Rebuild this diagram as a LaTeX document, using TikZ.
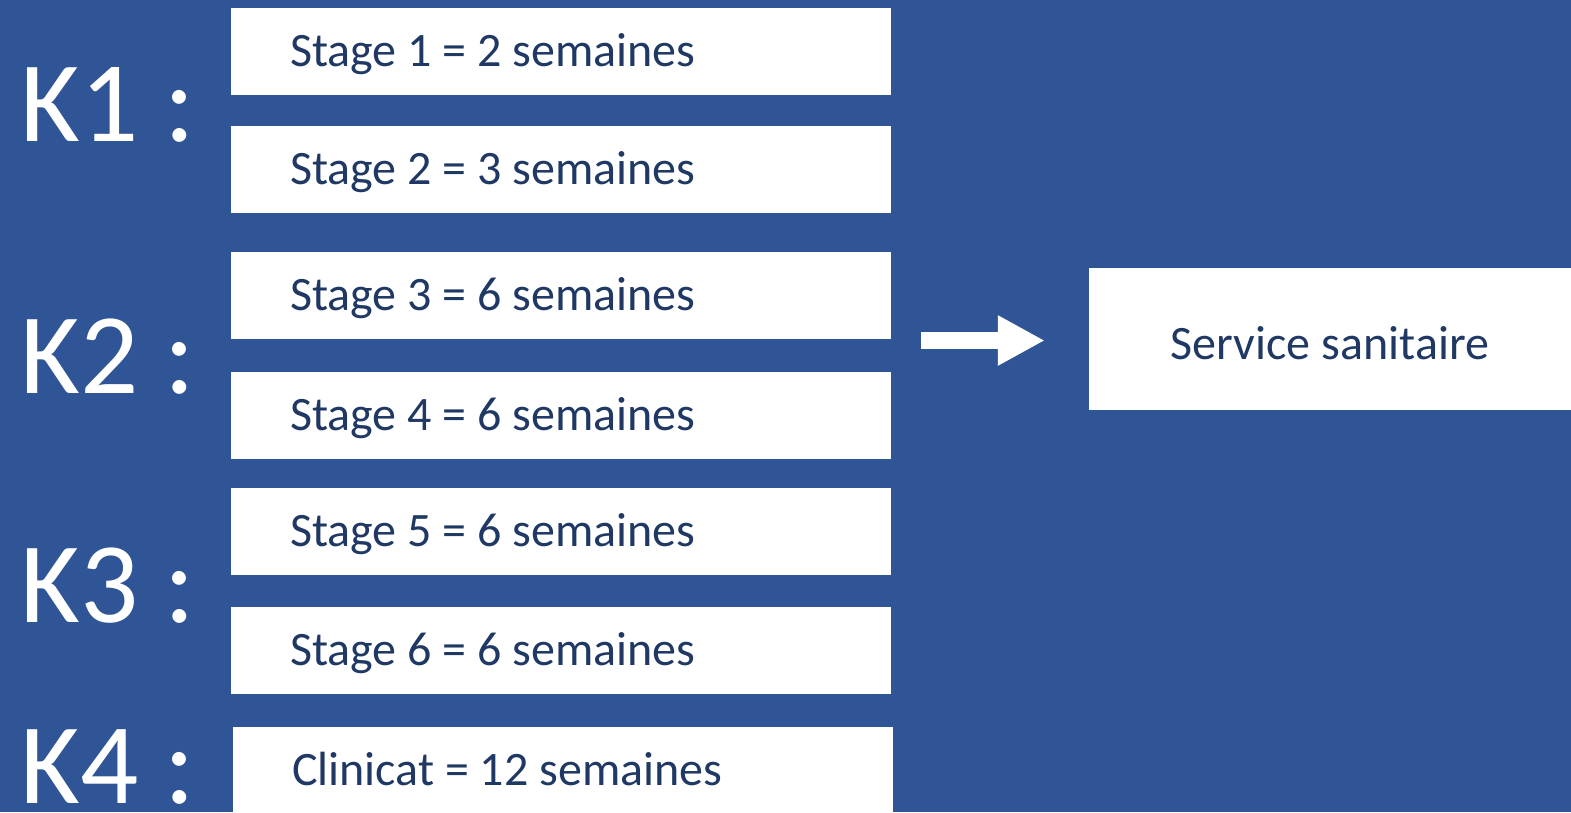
\documentclass[tikz,border=0pt]{standalone}
\usepackage{fontspec}
\setmainfont{Carlito}
\usepackage{xcolor}
\usepackage{tikz}
\usetikzlibrary{positioning,arrows.meta}

\definecolor{slideblue}{HTML}{2F5597}
\definecolor{boxtext}{HTML}{1F3864}

\begin{document}
\begin{tikzpicture}[
  x=1pt, y=-1pt,
  stagebox/.style={rectangle, fill=white, text=boxtext, minimum width=660pt, minimum height=87pt, text width=542pt, inner xsep=59pt, align=flush left, text height=30pt, text depth=0pt, font=\fontsize{48}{56}\selectfont},
  klabel/.style={text=white, inner sep=0pt, anchor=base west, text depth=0pt, font=\fontsize{115}{130}\selectfont},
  bigarrow/.style={-{Triangle[length=47pt, width=47pt]}, white, line width=17pt}
]
\fill[slideblue] (0,0) rectangle (1571,812);
\useasboundingbox (0,0) rectangle (1571,812);

\node[klabel] (k1) at (20,141.5) {K1 :};
\node[klabel] (k2) at (20,393) {K2 :};
\node[klabel] (k3) at (20,622) {K3 :};
\node[klabel] (k4) at (20,803) {K4 :};

\node[stagebox] (stage1) at (561,51.5) {Stage 1 = 2 semaines};
\node[stagebox] (stage2) at (561,169.5) {Stage 2 = 3 semaines};
\node[stagebox] (stage3) at (561,295.5) {Stage 3 = 6 semaines};
\node[stagebox] (stage4) at (561,415) {Stage 4 = 6 semaines};
\node[stagebox] (stage5) at (561,531.5) {Stage 5 = 6 semaines};
\node[stagebox] (stage6) at (561,650.5) {Stage 6 = 6 semaines};
\node[stagebox, xshift=2pt] (clinicat) at (561,770.5) {Clinicat = 12 semaines};

\node[rectangle, fill=white, text=boxtext, minimum width=482pt, minimum height=142pt, text height=40pt, text depth=0pt, font=\fontsize{48}{56}\selectfont] (service) at (1330,339) {Service sanitaire};

\coordinate (arrstart) at (921,340.5);
\draw[bigarrow, shorten >=44pt] (arrstart) -- (service.west |- arrstart);
\end{tikzpicture}
\end{document}
